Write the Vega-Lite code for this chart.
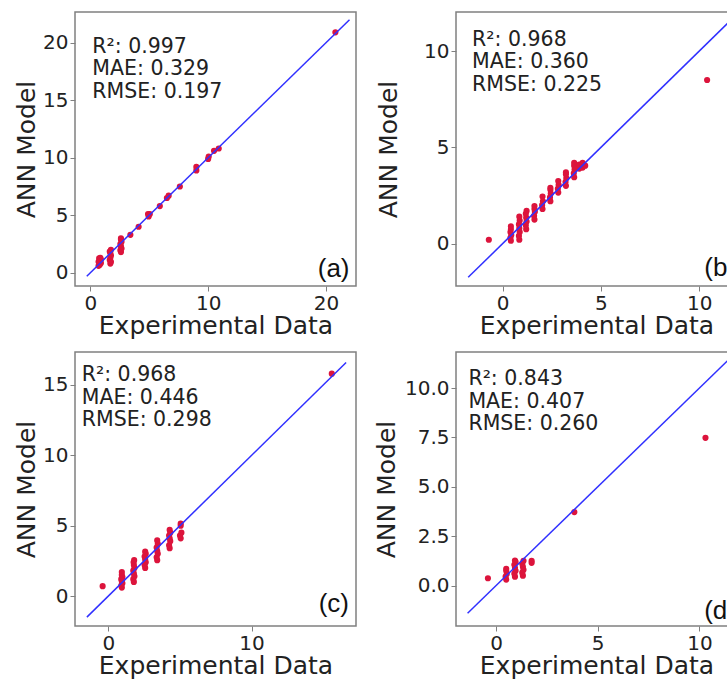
{
  "$schema": "https://vega.github.io/schema/vega-lite/v6.json",
  "padding": {"left": 13, "top": 11, "right": 0, "bottom": 0},
  "background": "white",
  "columns": 2,
  "spacing": {"row": 66, "column": 100},
  "bounds": "flush",
  "config": {
    "view": {"stroke": "#808080", "strokeWidth": 1.5},
    "axis": {
      "grid": false, "domain": false, "tickColor": "#808080", "tickSize": 5, "tickWidth": 1,
      "labelPadding": 2, "labelFontSize": 20, "labelFont": "DejaVu Sans", "labelColor": "#222222",
      "titleFontSize": 25, "titleFontWeight": "normal", "titleFont": "DejaVu Sans", "titleColor": "#222222",
      "labelFlush": false, "labelOverlap": false
    }
  },
  "concat": [
    {
      "width": 281, "height": 274,
      "layer": [
        {
          "data": {"values": [
            {"exp": 0.7, "ann": 0.6}, {"exp": 0.8, "ann": 0.7}, {"exp": 0.9, "ann": 0.85}, {"exp": 0.7, "ann": 0.95},
            {"exp": 0.8, "ann": 1.05}, {"exp": 0.9, "ann": 1.15}, {"exp": 0.75, "ann": 1.25}, {"exp": 0.85, "ann": 1.3},
            {"exp": 1.7, "ann": 0.8}, {"exp": 1.75, "ann": 0.95}, {"exp": 1.65, "ann": 1.1}, {"exp": 1.7, "ann": 1.3},
            {"exp": 1.75, "ann": 1.5}, {"exp": 1.7, "ann": 1.7}, {"exp": 1.65, "ann": 1.85}, {"exp": 1.75, "ann": 2.0},
            {"exp": 2.6, "ann": 1.8}, {"exp": 2.55, "ann": 1.95}, {"exp": 2.65, "ann": 2.1}, {"exp": 2.6, "ann": 2.3},
            {"exp": 2.55, "ann": 2.5}, {"exp": 2.65, "ann": 2.7}, {"exp": 2.6, "ann": 2.9}, {"exp": 2.6, "ann": 3.0},
            {"exp": 3.4, "ann": 3.3}, {"exp": 4.1, "ann": 4.0}, {"exp": 4.95, "ann": 4.9}, {"exp": 5.05, "ann": 5.1},
            {"exp": 4.9, "ann": 5.1}, {"exp": 5.9, "ann": 5.8}, {"exp": 6.5, "ann": 6.5}, {"exp": 6.65, "ann": 6.7},
            {"exp": 7.6, "ann": 7.5}, {"exp": 9.0, "ann": 8.9}, {"exp": 9.0, "ann": 9.2}, {"exp": 10.0, "ann": 9.9},
            {"exp": 10.05, "ann": 10.1}, {"exp": 10.5, "ann": 10.6}, {"exp": 10.9, "ann": 10.8}, {"exp": 20.8, "ann": 20.9}
          ]},
          "mark": {"type": "circle", "size": 38, "color": "#dc143c", "opacity": 1},
          "encoding": {
            "x": {"field": "exp", "type": "quantitative", "scale": {"domain": [-1.3, 22.55], "nice": false, "zero": false},
                  "axis": {"values": [0, 10, 20], "title": "Experimental Data", "titlePadding": 0}},
            "y": {"field": "ann", "type": "quantitative", "scale": {"domain": [-1.15, 22.67], "nice": false, "zero": false},
                  "axis": {"values": [0, 5, 10, 15, 20], "title": "ANN Model", "titlePadding": 3}}
          }
        },
        {
          "data": {"values": [{"exp": -0.3, "ann": -0.3}, {"exp": 22.0, "ann": 22.0}]},
          "mark": {"type": "line", "color": "#3030ff", "strokeWidth": 1.5, "clip": true},
          "encoding": {"x": {"field": "exp", "type": "quantitative"}, "y": {"field": "ann", "type": "quantitative"}}
        },
        {
          "data": {"values": [{"stats": "R²: 0.997\nMAE: 0.329\nRMSE: 0.197"}]},
          "mark": {"type": "text", "align": "left", "baseline": "top", "lineBreak": "\n", "lineHeight": 22.5, "fontSize": 20.5, "font": "DejaVu Sans", "color": "#222222"},
          "encoding": {"x": {"datum": 0.17}, "y": {"datum": 20.5}, "text": {"field": "stats"}}
        },
        {
          "data": {"values": [{"tag": "(a)"}]},
          "mark": {"type": "text", "align": "right", "baseline": "alphabetic", "fontSize": 26, "font": "Liberation Sans", "color": "#111111"},
          "encoding": {"x": {"datum": 22.0}, "y": {"datum": -0.37}, "text": {"field": "tag"}}
        }
      ]
    },
    {
      "width": 281, "height": 274,
      "layer": [
        {
          "data": {"values": [
            {"exp": -0.7, "ann": 0.2},
            {"exp": 0.42, "ann": 0.15}, {"exp": 0.4, "ann": 0.3}, {"exp": 0.44, "ann": 0.45}, {"exp": 0.4, "ann": 0.6}, {"exp": 0.42, "ann": 0.75}, {"exp": 0.42, "ann": 0.9},
            {"exp": 0.85, "ann": 0.2}, {"exp": 0.83, "ann": 0.4}, {"exp": 0.87, "ann": 0.6}, {"exp": 0.85, "ann": 0.8}, {"exp": 0.83, "ann": 1.0}, {"exp": 0.87, "ann": 1.2}, {"exp": 0.85, "ann": 1.4},
            {"exp": 1.2, "ann": 0.75}, {"exp": 1.18, "ann": 0.95}, {"exp": 1.22, "ann": 1.15}, {"exp": 1.2, "ann": 1.35}, {"exp": 1.18, "ann": 1.55}, {"exp": 1.22, "ann": 1.7},
            {"exp": 1.62, "ann": 1.25}, {"exp": 1.6, "ann": 1.45}, {"exp": 1.64, "ann": 1.65}, {"exp": 1.62, "ann": 1.8}, {"exp": 1.62, "ann": 1.95},
            {"exp": 2.03, "ann": 1.8}, {"exp": 2.01, "ann": 2.0}, {"exp": 2.05, "ann": 2.2}, {"exp": 2.03, "ann": 2.45},
            {"exp": 2.43, "ann": 2.2}, {"exp": 2.41, "ann": 2.4}, {"exp": 2.45, "ann": 2.6}, {"exp": 2.43, "ann": 2.8}, {"exp": 2.43, "ann": 2.9},
            {"exp": 2.83, "ann": 2.65}, {"exp": 2.81, "ann": 2.85}, {"exp": 2.85, "ann": 3.05}, {"exp": 2.83, "ann": 3.25},
            {"exp": 3.22, "ann": 3.0}, {"exp": 3.2, "ann": 3.2}, {"exp": 3.24, "ann": 3.4}, {"exp": 3.22, "ann": 3.6}, {"exp": 3.22, "ann": 3.7},
            {"exp": 3.64, "ann": 3.45}, {"exp": 3.62, "ann": 3.65}, {"exp": 3.66, "ann": 3.85}, {"exp": 3.64, "ann": 4.05}, {"exp": 3.64, "ann": 4.2},
            {"exp": 3.9, "ann": 3.9}, {"exp": 3.9, "ann": 4.1}, {"exp": 4.07, "ann": 3.95}, {"exp": 4.07, "ann": 4.1}, {"exp": 4.07, "ann": 4.2}, {"exp": 4.2, "ann": 4.05},
            {"exp": 10.4, "ann": 8.5}
          ]},
          "mark": {"type": "circle", "size": 38, "color": "#dc143c", "opacity": 1},
          "encoding": {
            "x": {"field": "exp", "type": "quantitative", "scale": {"domain": [-2.37, 11.92], "nice": false, "zero": false},
                  "axis": {"values": [0, 5, 10], "title": "Experimental Data", "titlePadding": 0}},
            "y": {"field": "ann", "type": "quantitative", "scale": {"domain": [-2.2, 12.03], "nice": false, "zero": false},
                  "axis": {"values": [0, 5, 10], "title": "ANN Model", "titlePadding": 22}}
          }
        },
        {
          "data": {"values": [{"exp": -1.75, "ann": -1.75}, {"exp": 11.9, "ann": 11.9}]},
          "mark": {"type": "line", "color": "#3030ff", "strokeWidth": 1.5, "clip": true},
          "encoding": {"x": {"field": "exp", "type": "quantitative"}, "y": {"field": "ann", "type": "quantitative"}}
        },
        {
          "data": {"values": [{"stats": "R²: 0.968\nMAE: 0.360\nRMSE: 0.225"}]},
          "mark": {"type": "text", "align": "left", "baseline": "top", "lineBreak": "\n", "lineHeight": 22.5, "fontSize": 20.5, "font": "DejaVu Sans", "color": "#222222"},
          "encoding": {"x": {"datum": -1.55}, "y": {"datum": 11.1}, "text": {"field": "stats"}}
        },
        {
          "data": {"values": [{"tag": "(b)"}]},
          "mark": {"type": "text", "align": "right", "baseline": "alphabetic", "fontSize": 26, "font": "Liberation Sans", "color": "#111111"},
          "encoding": {"x": {"datum": 11.87}, "y": {"datum": -1.68}, "text": {"field": "tag"}}
        }
      ]
    },
    {
      "width": 281, "height": 274,
      "layer": [
        {
          "data": {"values": [
            {"exp": -0.4, "ann": 0.7},
            {"exp": 0.94, "ann": 0.6}, {"exp": 0.9, "ann": 0.75}, {"exp": 0.98, "ann": 0.9}, {"exp": 0.94, "ann": 1.05}, {"exp": 0.9, "ann": 1.2}, {"exp": 0.98, "ann": 1.35}, {"exp": 0.94, "ann": 1.5}, {"exp": 0.94, "ann": 1.7},
            {"exp": 1.78, "ann": 1.0}, {"exp": 1.74, "ann": 1.2}, {"exp": 1.82, "ann": 1.4}, {"exp": 1.78, "ann": 1.6}, {"exp": 1.74, "ann": 1.8}, {"exp": 1.82, "ann": 2.0}, {"exp": 1.78, "ann": 2.2}, {"exp": 1.76, "ann": 2.4}, {"exp": 1.8, "ann": 2.55},
            {"exp": 2.57, "ann": 2.0}, {"exp": 2.53, "ann": 2.2}, {"exp": 2.61, "ann": 2.4}, {"exp": 2.57, "ann": 2.6}, {"exp": 2.53, "ann": 2.8}, {"exp": 2.61, "ann": 3.0}, {"exp": 2.57, "ann": 3.15},
            {"exp": 3.41, "ann": 2.55}, {"exp": 3.37, "ann": 2.75}, {"exp": 3.45, "ann": 3.0}, {"exp": 3.41, "ann": 3.2}, {"exp": 3.37, "ann": 3.45}, {"exp": 3.45, "ann": 3.7}, {"exp": 3.41, "ann": 3.95},
            {"exp": 4.28, "ann": 3.4}, {"exp": 4.24, "ann": 3.6}, {"exp": 4.32, "ann": 3.9}, {"exp": 4.28, "ann": 4.1}, {"exp": 4.24, "ann": 4.3}, {"exp": 4.32, "ann": 4.5}, {"exp": 4.28, "ann": 4.7},
            {"exp": 5.05, "ann": 4.1}, {"exp": 5.0, "ann": 4.3}, {"exp": 5.1, "ann": 4.5}, {"exp": 5.05, "ann": 5.0}, {"exp": 5.05, "ann": 5.15},
            {"exp": 15.6, "ann": 15.8}
          ]},
          "mark": {"type": "circle", "size": 38, "color": "#dc143c", "opacity": 1},
          "encoding": {
            "x": {"field": "exp", "type": "quantitative", "scale": {"domain": [-2.33, 17.29], "nice": false, "zero": false},
                  "axis": {"values": [0, 10], "title": "Experimental Data", "titlePadding": 0}},
            "y": {"field": "ann", "type": "quantitative", "scale": {"domain": [-2.13, 17.34], "nice": false, "zero": false},
                  "axis": {"values": [0, 5, 10, 15], "title": "ANN Model", "titlePadding": 3}}
          }
        },
        {
          "data": {"values": [{"exp": -1.5, "ann": -1.5}, {"exp": 16.6, "ann": 16.6}]},
          "mark": {"type": "line", "color": "#3030ff", "strokeWidth": 1.5, "clip": true},
          "encoding": {"x": {"field": "exp", "type": "quantitative"}, "y": {"field": "ann", "type": "quantitative"}}
        },
        {
          "data": {"values": [{"stats": "R²: 0.968\nMAE: 0.446\nRMSE: 0.298"}]},
          "mark": {"type": "text", "align": "left", "baseline": "top", "lineBreak": "\n", "lineHeight": 22.5, "fontSize": 20.5, "font": "DejaVu Sans", "color": "#222222"},
          "encoding": {"x": {"datum": -1.86}, "y": {"datum": 16.4}, "text": {"field": "stats"}}
        },
        {
          "data": {"values": [{"tag": "(c)"}]},
          "mark": {"type": "text", "align": "right", "baseline": "alphabetic", "fontSize": 26, "font": "Liberation Sans", "color": "#111111"},
          "encoding": {"x": {"datum": 16.8}, "y": {"datum": -1.12}, "text": {"field": "tag"}}
        }
      ]
    },
    {
      "width": 281, "height": 274,
      "layer": [
        {
          "data": {"values": [
            {"exp": -0.4, "ann": 0.37},
            {"exp": 0.5, "ann": 0.3}, {"exp": 0.47, "ann": 0.45}, {"exp": 0.53, "ann": 0.6}, {"exp": 0.5, "ann": 0.75}, {"exp": 0.5, "ann": 0.85},
            {"exp": 0.93, "ann": 0.45}, {"exp": 0.9, "ann": 0.6}, {"exp": 0.96, "ann": 0.75}, {"exp": 0.93, "ann": 0.9}, {"exp": 0.9, "ann": 1.05}, {"exp": 0.96, "ann": 1.2}, {"exp": 0.93, "ann": 1.27},
            {"exp": 1.32, "ann": 0.5}, {"exp": 1.29, "ann": 0.65}, {"exp": 1.35, "ann": 0.8}, {"exp": 1.32, "ann": 0.95}, {"exp": 1.29, "ann": 1.1}, {"exp": 1.35, "ann": 1.25},
            {"exp": 1.75, "ann": 1.15}, {"exp": 1.75, "ann": 1.25},
            {"exp": 3.85, "ann": 3.72},
            {"exp": 10.3, "ann": 7.48}
          ]},
          "mark": {"type": "circle", "size": 38, "color": "#dc143c", "opacity": 1},
          "encoding": {
            "x": {"field": "exp", "type": "quantitative", "scale": {"domain": [-1.97, 11.85], "nice": false, "zero": false},
                  "axis": {"values": [0, 5, 10], "title": "Experimental Data", "titlePadding": 0}},
            "y": {"field": "ann", "type": "quantitative", "scale": {"domain": [-2.05, 11.83], "nice": false, "zero": false},
                  "axis": {"values": [0, 2.5, 5, 7.5, 10], "format": ".1f", "title": "ANN Model", "titlePadding": 5}}
          }
        },
        {
          "data": {"values": [{"exp": -1.4, "ann": -1.4}, {"exp": 11.8, "ann": 11.8}]},
          "mark": {"type": "line", "color": "#3030ff", "strokeWidth": 1.5, "clip": true},
          "encoding": {"x": {"field": "exp", "type": "quantitative"}, "y": {"field": "ann", "type": "quantitative"}}
        },
        {
          "data": {"values": [{"stats": "R²: 0.843\nMAE: 0.407\nRMSE: 0.260"}]},
          "mark": {"type": "text", "align": "left", "baseline": "top", "lineBreak": "\n", "lineHeight": 22.5, "fontSize": 20.5, "font": "DejaVu Sans", "color": "#222222"},
          "encoding": {"x": {"datum": -1.36}, "y": {"datum": 10.95}, "text": {"field": "stats"}}
        },
        {
          "data": {"values": [{"tag": "(d)"}]},
          "mark": {"type": "text", "align": "right", "baseline": "alphabetic", "fontSize": 26, "font": "Liberation Sans", "color": "#111111"},
          "encoding": {"x": {"datum": 11.8}, "y": {"datum": -1.69}, "text": {"field": "tag"}}
        }
      ]
    }
  ]
}
